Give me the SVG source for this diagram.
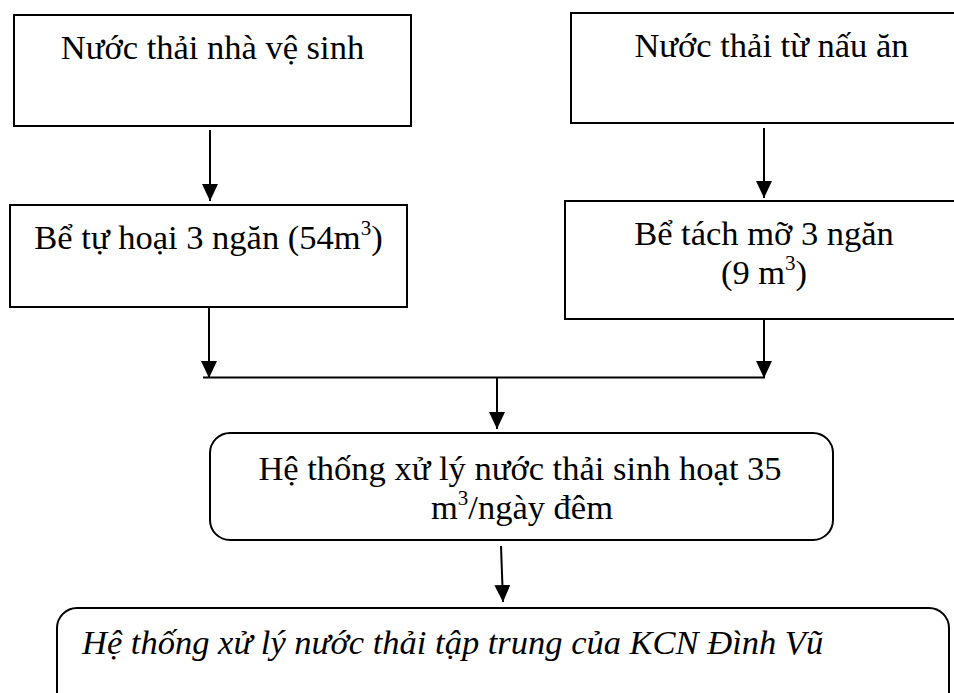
<svg xmlns="http://www.w3.org/2000/svg" width="954" height="693" viewBox="0 0 954 693">
<defs>
<style>
.box{fill:#fff;stroke:#000;stroke-width:2}
.t{font-family:'Liberation Serif','Times New Roman','DejaVu Serif',serif;font-size:34.5px;fill:#000;text-anchor:middle}
.it{font-style:italic;text-anchor:start}
.sup{font-size:21px}
.ln{stroke:#000;stroke-width:2;fill:none}
</style>
<marker id="ah" markerUnits="userSpaceOnUse" markerWidth="18" markerHeight="18" viewBox="0 0 18 18" refX="17" refY="9" orient="auto">
<path d="M0,1 L17,9 L0,17 Z" fill="#000"/>
</marker>
</defs>
<rect width="954" height="693" fill="#fff"/>
<g id="connectors">
<line class="ln" x1="210" y1="130" x2="210" y2="201" marker-end="url(#ah)"/>
<line class="ln" x1="764" y1="128" x2="764" y2="198" marker-end="url(#ah)"/>
<line class="ln" x1="209" y1="307" x2="209" y2="378" marker-end="url(#ah)"/>
<line class="ln" x1="764" y1="319" x2="764" y2="378" marker-end="url(#ah)"/>
<line class="ln" x1="203" y1="377.5" x2="765" y2="377.5"/>
<line class="ln" x1="497" y1="377" x2="497" y2="429" marker-end="url(#ah)"/>
<line class="ln" x1="501" y1="546" x2="503" y2="602" marker-end="url(#ah)"/>
</g>
<g id="n1">
<rect class="box" x="14" y="15" width="397" height="111"/>
<text class="t" font-family="Liberation Serif, serif" x="212.5" y="59">Nước thải nhà vệ sinh</text>
</g>
<g id="n2">
<rect class="box" x="571" y="13" width="400" height="110"/>
<text class="t" font-family="Liberation Serif, serif" x="771.5" y="57">Nước thải từ nấu ăn</text>
</g>
<g id="n3">
<rect class="box" x="10" y="205" width="397" height="102"/>
<text class="t" font-family="Liberation Serif, serif" x="208.5" y="249">Bể tự hoại 3 ngăn (54m<tspan class="sup" dy="-14">3</tspan><tspan dy="14">)</tspan></text>
</g>
<g id="n4">
<rect class="box" x="565" y="201" width="400" height="118"/>
<text class="t" font-family="Liberation Serif, serif" x="764" y="245">Bể tách mỡ 3 ngăn</text>
<text class="t" font-family="Liberation Serif, serif" x="764" y="284">(9 m<tspan class="sup" dy="-14">3</tspan><tspan dy="14">)</tspan></text>
</g>
<g id="n5">
<rect class="box" x="210" y="433" width="623" height="107" rx="20" ry="20"/>
<text class="t" font-family="Liberation Serif, serif" x="520" y="480">Hệ thống xử lý nước thải sinh hoạt 35</text>
<text class="t" font-family="Liberation Serif, serif" x="522" y="519">m<tspan class="sup" dy="-14">3</tspan><tspan dy="14">/ngày đêm</tspan></text>
</g>
<g id="n6">
<rect class="box" x="57" y="608" width="892" height="110" rx="20" ry="20"/>
<text class="t it" font-family="Liberation Serif, serif" x="82" y="654">Hệ thống xử lý nước thải tập trung của KCN Đình Vũ</text>
</g>
</svg>
